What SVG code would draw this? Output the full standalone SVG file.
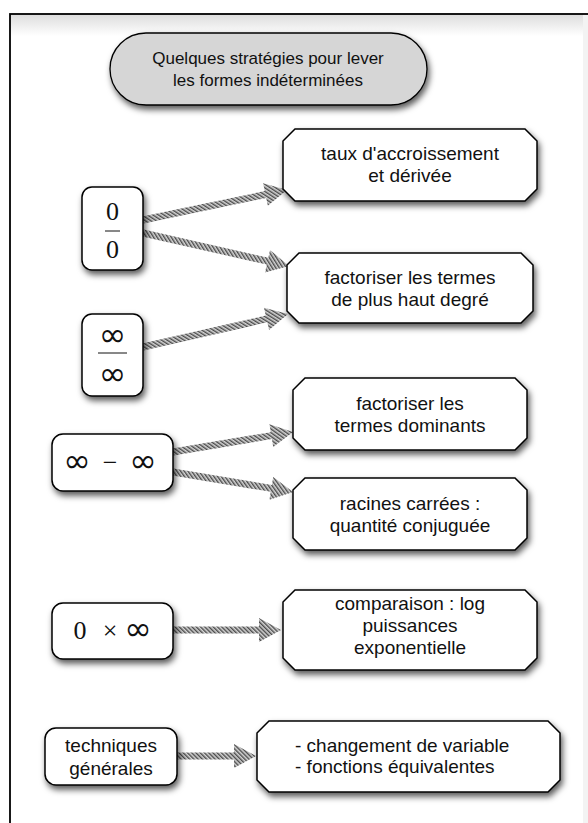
<svg xmlns="http://www.w3.org/2000/svg" width="588" height="823" viewBox="0 0 588 823">
<style>
.lbl{font-family:"Liberation Sans",Arial,Helvetica,sans-serif;font-size:19px;fill:#111;text-anchor:middle}
.ttl{font-family:"Liberation Sans",Arial,Helvetica,sans-serif;font-size:17px;fill:#111;text-anchor:middle}
.math{font-family:"Liberation Serif","DejaVu Serif",serif;font-size:26px;fill:#111;text-anchor:middle}
.inf{font-family:"DejaVu Sans","Liberation Serif",sans-serif;font-size:33px;fill:#111;text-anchor:middle}
.node{fill:#fff;stroke:#000;stroke-width:1.5;filter:url(#sh)}
.arr{fill:url(#hatch);stroke:none}
</style>
<defs>
<filter id="sh" x="-20%" y="-20%" width="150%" height="160%">
<feDropShadow dx="2" dy="4" stdDeviation="3" flood-color="#000" flood-opacity="0.65"/>
</filter>
<pattern id="hatch" width="3" height="3" patternUnits="userSpaceOnUse" patternTransform="rotate(-45)">
<rect width="3" height="3" fill="#d4d4d4"/>
<rect width="1.4" height="3" fill="#4a4a4a"/>
</pattern>
<linearGradient id="topg" x1="0" y1="0" x2="0" y2="1">
<stop offset="0" stop-color="#dcdcdc"/>
<stop offset="1" stop-color="#ffffff"/>
</linearGradient>
</defs>
<rect width="588" height="823" fill="#fff"/>
<g id="frame">
<rect x="10" y="14" width="600" height="22" fill="url(#topg)"/>
<rect x="583" y="14" width="5" height="809" fill="#f3f3f3"/>
<rect x="10" y="14" width="600" height="830" fill="none" stroke="#000" stroke-width="1.8"/>
</g>
<g id="connectors">
<polygon class="arr" transform="translate(143,220) rotate(-11.77)" points="0,-3.5 125.1,-3.5 125.1,-11.5 147.1,0 125.1,11.5 125.1,3.5 0,3.5"/>
<polygon class="arr" transform="translate(143,233) rotate(12.74)" points="0,-3.5 127.7,-3.5 127.7,-11.5 149.7,0 127.7,11.5 127.7,3.5 0,3.5"/>
<polygon class="arr" transform="translate(143,347) rotate(-12.82)" points="0,-3.5 126.7,-3.5 126.7,-11.5 148.7,0 126.7,11.5 126.7,3.5 0,3.5"/>
<polygon class="arr" transform="translate(173,452) rotate(-9.46)" points="0,-3.5 99.7,-3.5 99.7,-11.5 121.7,0 99.7,11.5 99.7,3.5 0,3.5"/>
<polygon class="arr" transform="translate(173,472) rotate(9.46)" points="0,-3.5 99.7,-3.5 99.7,-11.5 121.7,0 99.7,11.5 99.7,3.5 0,3.5"/>
<polygon class="arr" transform="translate(173,630)" points="0,-3.5 86,-3.5 86,-12 108,0 86,12 86,3.5 0,3.5"/>
<polygon class="arr" transform="translate(177,756)" points="0,-3.5 57,-3.5 57,-12 79,0 57,12 57,3.5 0,3.5"/>
</g>
<g id="title">
<rect x="110" y="33" width="317" height="72" rx="36" ry="36" fill="#d6d6d6" stroke="#000" stroke-width="1.3" filter="url(#sh)"/>
<text class="ttl" x="268" y="64">Quelques stratégies pour lever</text>
<text class="ttl" x="268" y="86">les formes indéterminées</text>
</g>
<g id="n-zero-zero">
<rect class="node" x="82" y="187" width="61" height="83" rx="10"/>
<text class="math" x="112.5" y="220">0</text>
<line x1="105" y1="231" x2="120" y2="231" stroke="#111" stroke-width="1"/>
<text class="math" x="112.5" y="258">0</text>
</g>
<g id="n-inf-inf">
<rect class="node" x="82" y="314" width="61" height="82" rx="10"/>
<text class="inf" x="112.5" y="346">∞</text>
<line x1="98" y1="353" x2="127" y2="353" stroke="#111" stroke-width="1"/>
<text class="inf" x="112.5" y="385">∞</text>
</g>
<g id="n-inf-minus-inf">
<rect class="node" x="52" y="434" width="121" height="57" rx="11"/>
<text class="inf" x="77" y="472">∞</text>
<text class="math" x="110" y="471">−</text>
<text class="inf" x="143" y="472">∞</text>
</g>
<g id="n-zero-times-inf">
<rect class="node" x="52" y="603" width="121" height="56" rx="11"/>
<text class="math" x="80" y="639">0</text>
<text class="math" x="110" y="639">×</text>
<text class="inf" x="138" y="640">∞</text>
</g>
<g id="n-techniques">
<rect class="node" x="45" y="728" width="132" height="57" rx="11"/>
<text class="lbl" x="111" y="752">techniques</text>
<text class="lbl" x="111" y="775">générales</text>
</g>
<g id="b-taux">
<path class="node" d="M295,129 H525 L537,141 V189 L525,201 H295 L283,189 V141 Z"/>
<text class="lbl" x="410" y="160">taux d'accroissement</text>
<text class="lbl" x="410" y="182">et dérivée</text>
</g>
<g id="b-factoriser-degre">
<path class="node" d="M299,253 H521 L533,265 V311 L521,323 H299 L287,311 V265 Z"/>
<text class="lbl" x="410" y="284">factoriser les termes</text>
<text class="lbl" x="410" y="306">de plus haut degré</text>
</g>
<g id="b-factoriser-dominants">
<path class="node" d="M305,378 H515 L527,390 V438 L515,450 H305 L293,438 V390 Z"/>
<text class="lbl" x="410" y="410">factoriser les</text>
<text class="lbl" x="410" y="432">termes dominants</text>
</g>
<g id="b-racines">
<path class="node" d="M305,478 H515 L527,490 V538 L515,550 H305 L293,538 V490 Z"/>
<text class="lbl" x="410" y="510">racines carrées :</text>
<text class="lbl" x="410" y="532">quantité conjuguée</text>
</g>
<g id="b-comparaison">
<path class="node" d="M295,590 H525 L537,602 V658 L525,670 H295 L283,658 V602 Z"/>
<text class="lbl" x="410" y="610">comparaison : log</text>
<text class="lbl" x="410" y="632">puissances</text>
<text class="lbl" x="410" y="654">exponentielle</text>
</g>
<g id="b-techniques">
<path class="node" d="M269,721 H548 L560,733 V780 L548,792 H269 L257,780 V733 Z"/>
<text class="lbl" x="295" y="752" style="text-anchor:start">- changement de variable</text>
<text class="lbl" x="295" y="773" style="text-anchor:start">- fonctions équivalentes</text>
</g>
</svg>
